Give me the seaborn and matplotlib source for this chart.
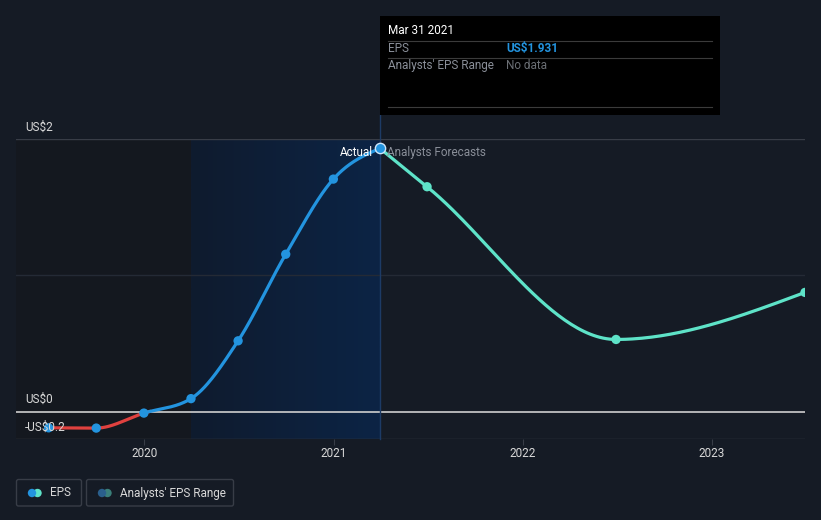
import matplotlib
matplotlib.use('Agg')
import matplotlib.pyplot as plt
import matplotlib.dates as mdates
from matplotlib.patches import FancyBboxPatch, Circle, Rectangle
from matplotlib.colors import LinearSegmentedColormap
import seaborn as sns
import pandas as pd
import numpy as np

# Data
actual_dates = ['2019-06-30', '2019-09-30', '2019-12-31', '2020-03-31',
                '2020-06-30', '2020-09-30', '2020-12-31', '2021-03-31']
actual_eps = [-0.118, -0.12, -0.01, 0.096, 0.52, 1.155, 1.706, 1.931]

forecast_dates = ['2021-03-31', '2021-06-30', '2022-06-30', '2023-06-30']
forecast_eps = [1.931, 1.65, 0.53, 0.875]

y_ticks = [2, 0, -0.2]
y_tick_labels = ['US$2', 'US$0', '-US$0.2']

# Colours
BG = '#151b25'
PAST = '#14181f'
BLUE = '#2394df'
RED = '#e0413f'
TEAL = '#5ee3c8'
GRID = '#383d47'
TXT = '#d8d8d8'
GREY = '#8a8f99'


def monotone_curve(x, y, n=60):
    # monotone cubic (d3 curveMonotoneX style) just for drawing the smooth line
    x = np.asarray(x, float)
    y = np.asarray(y, float)
    h = np.diff(x)
    d = np.diff(y) / h
    m = np.zeros(len(x))
    for i in range(1, len(x) - 1):
        p = (d[i - 1] * h[i] + d[i] * h[i - 1]) / (h[i - 1] + h[i])
        m[i] = (np.sign(d[i - 1]) + np.sign(d[i])) * min(abs(d[i - 1]), abs(d[i]), 0.5 * abs(p))
    m[0] = (3 * d[0] - m[1]) / 2 if len(x) > 2 else d[0]
    m[-1] = (3 * d[-1] - m[-2]) / 2 if len(x) > 2 else d[-1]
    xs, ys = [], []
    for i in range(len(x) - 1):
        t = np.linspace(0, 1, n)
        h00 = 2 * t**3 - 3 * t**2 + 1
        h10 = t**3 - 2 * t**2 + t
        h01 = -2 * t**3 + 3 * t**2
        h11 = t**3 - t**2
        xs.append(x[i] + t * h[i])
        ys.append(h00 * y[i] + h10 * h[i] * m[i] + h01 * y[i + 1] + h11 * h[i] * m[i + 1])
    return np.concatenate(xs), np.concatenate(ys)


plt.rcParams['font.family'] = ['Roboto', 'DejaVu Sans']

fig = plt.figure(figsize=(8.21, 5.2), dpi=100, facecolor=BG)
ax = fig.add_axes([16 / 821, 81 / 520, 789 / 821, 300 / 520])
ax.set_facecolor(BG)

ax_dates = mdates.date2num(pd.to_datetime(actual_dates))
fc_dates = mdates.date2num(pd.to_datetime(forecast_dates))
x_left = mdates.date2num(pd.Timestamp('2019-04-28'))
x_right = mdates.date2num(pd.Timestamp('2023-06-30'))
split = mdates.date2num(pd.Timestamp('2020-03-31'))
now = ax_dates[-1]

# past / current shaded regions
ax.axvspan(x_left, split, color=PAST, zorder=0, lw=0)
grad = LinearSegmentedColormap.from_list('g', ['#0f1b2e', '#0c2445'])
ax.imshow(np.linspace(0, 1, 100).reshape(1, -1), cmap=grad, aspect='auto',
          extent=[split, now, -0.2, 2.0], zorder=0.5)

# grid lines
ax.axhline(2, color=GRID, lw=1, zorder=1)
ax.axhline(1, color='#242a35', lw=1, zorder=1)
ax.axhline(0, color='#cfcfcf', lw=1.2, zorder=1)
ax.axhline(-0.2, color=GRID, lw=1, zorder=1)

# actual EPS curve: red below zero, blue above
cx, cy = monotone_curve(ax_dates, actual_eps)
neg = cy < 0
cut = np.argmax(~neg)
sns.lineplot(x=cx[:cut + 1], y=cy[:cut + 1], ax=ax, color=RED, lw=2.3, sort=False,
             estimator=None, zorder=3)
sns.lineplot(x=cx[cut:], y=cy[cut:], ax=ax, color=BLUE, lw=2.3, sort=False,
             estimator=None, zorder=3)

# forecast curve
fx, fy = monotone_curve(fc_dates, forecast_eps)
sns.lineplot(x=fx, y=fy, ax=ax, color=TEAL, lw=2.3, sort=False, estimator=None, zorder=3)

# markers
sns.scatterplot(x=ax_dates[:-1], y=actual_eps[:-1], ax=ax, color=BLUE, s=45,
                edgecolor='none', zorder=4)
sns.scatterplot(x=fc_dates[1:], y=forecast_eps[1:], ax=ax, color=TEAL, s=45,
                edgecolor='none', zorder=4)
sns.scatterplot(x=[now], y=[actual_eps[-1]], ax=ax, color=BLUE, s=55,
                edgecolor='#cfe6fa', linewidth=1, zorder=5, clip_on=False)

# hover line up to tooltip
ax.plot([now, now], [-0.2, 2.0 + 24 / 136], color='#1d3b66', lw=1, zorder=2, clip_on=False)

ax.text(now - 14, 1.90, 'Actual', color='white', fontsize=8.5, ha='right', va='center', zorder=6)
ax.text(now + 13, 1.90, 'Analysts Forecasts', color=GREY, fontsize=8.5, ha='left', va='center', zorder=6)

# y labels sitting above their lines
for v, lab in zip(y_ticks, y_tick_labels):
    ax.annotate(lab, xy=(9 / 789, v), xycoords=ax.get_yaxis_transform(),
                xytext=(0, 4), textcoords='offset points', color=TXT,
                fontsize=8.5, ha='left', va='bottom', zorder=6)

ax.set_xlim(x_left, x_right)
ax.set_ylim(-0.2, 2.0)
ax.xaxis.set_major_locator(mdates.YearLocator())
ax.xaxis.set_major_formatter(mdates.DateFormatter('%Y'))
ax.set_yticks([])
ax.tick_params(axis='x', colors=GRID, labelcolor=TXT, labelsize=8.5, length=4, pad=2)
for s in ax.spines.values():
    s.set_visible(False)
ax.set_xlabel('')
ax.set_ylabel('')

# overlay in pixel coordinates for tooltip and legend
ov = fig.add_axes([0, 0, 1, 1], zorder=10)
ov.set_xlim(0, 821)
ov.set_ylim(520, 0)
ov.axis('off')
ov.patch.set_alpha(0)

ov.add_patch(Rectangle((380, 16), 340, 99, color='black', lw=0))
ov.text(388, 31, 'Mar 31 2021', color='white', fontsize=8.5, va='center')
for yy in [40.5, 57.5, 106.5]:
    ov.plot([388, 712], [yy, yy], color='#3b3b3b', lw=0.8)
ov.text(388, 48.5, 'EPS', color=GREY, fontsize=8.5, va='center')
ov.text(506, 48.5, 'US$1.931', color=BLUE, fontsize=8.5, va='center', fontweight='bold')
ov.text(388, 65.5, "Analysts' EPS Range", color=GREY, fontsize=8.5, va='center')
ov.text(506, 65.5, 'No data', color='#6b6f75', fontsize=8.5, va='center')

# legend boxes
ov.add_patch(FancyBboxPatch((16.5, 479.5), 65, 26.5, boxstyle='round,pad=0,rounding_size=2',
                            fc='none', ec=GRID, lw=1))
ov.add_patch(FancyBboxPatch((86.5, 479.5), 147, 26.5, boxstyle='round,pad=0,rounding_size=2',
                            fc='none', ec=GRID, lw=1))
ov.add_patch(Circle((37.5, 493), 4.2, color=TEAL, lw=0))
ov.add_patch(Circle((32, 493), 4.2, color=BLUE, lw=0))
ov.add_patch(Circle((107.5, 493), 4.2, color='#3a7f7a', lw=0))
ov.add_patch(Circle((102, 493), 4.2, color='#2a5f8c', lw=0))
ov.text(50, 493, 'EPS', color=TXT, fontsize=8.5, va='center')
ov.text(120, 493, "Analysts' EPS Range", color=TXT, fontsize=8.5, va='center')

plt.savefig('out.png', dpi=100, facecolor=BG)
